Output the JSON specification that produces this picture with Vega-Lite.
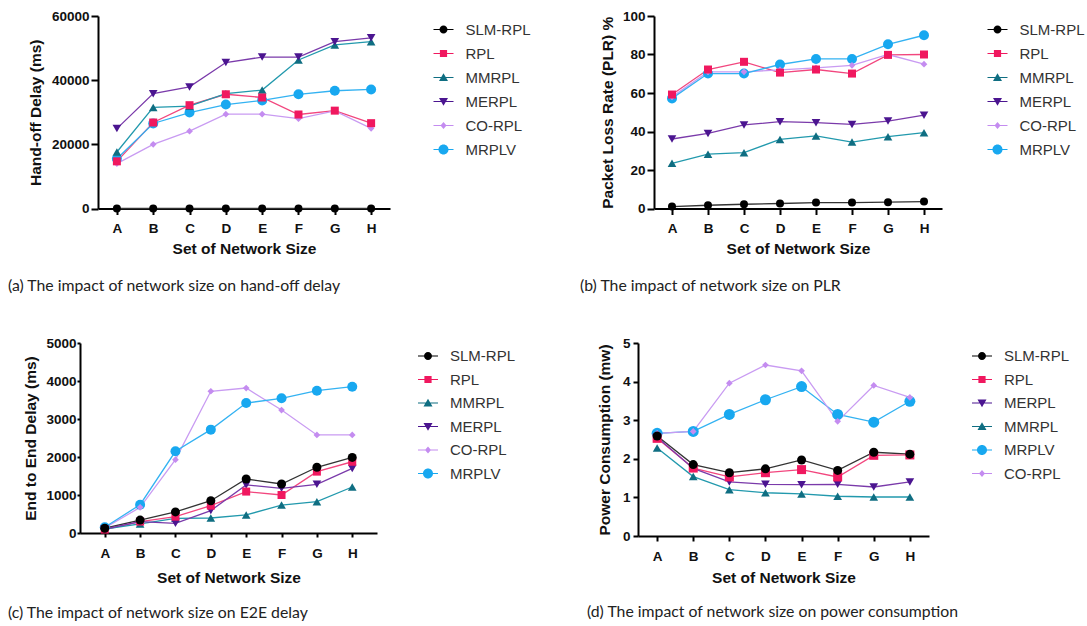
{
  "$schema": "https://vega.github.io/schema/vega-lite/v6.json",
  "background": "white",
  "padding": {"left": 8, "top": 9, "right": 2, "bottom": 5},
  "spacing": 42,
  "resolve": {"scale": {"color": "independent", "shape": "independent", "stroke": "independent"}},
  "datasets": {
    "ho": [
      {"set": "A", "series": "SLM-RPL", "value": 0}, {"set": "B", "series": "SLM-RPL", "value": 0}, {"set": "C", "series": "SLM-RPL", "value": 0}, {"set": "D", "series": "SLM-RPL", "value": 0},
      {"set": "E", "series": "SLM-RPL", "value": 0}, {"set": "F", "series": "SLM-RPL", "value": 0}, {"set": "G", "series": "SLM-RPL", "value": 0}, {"set": "H", "series": "SLM-RPL", "value": 0},
      {"set": "A", "series": "RPL", "value": 14700}, {"set": "B", "series": "RPL", "value": 26800}, {"set": "C", "series": "RPL", "value": 32200}, {"set": "D", "series": "RPL", "value": 35600},
      {"set": "E", "series": "RPL", "value": 34600}, {"set": "F", "series": "RPL", "value": 29300}, {"set": "G", "series": "RPL", "value": 30500}, {"set": "H", "series": "RPL", "value": 26600},
      {"set": "A", "series": "MMRPL", "value": 17600}, {"set": "B", "series": "MMRPL", "value": 31500}, {"set": "C", "series": "MMRPL", "value": 31900}, {"set": "D", "series": "MMRPL", "value": 35800},
      {"set": "E", "series": "MMRPL", "value": 36900}, {"set": "F", "series": "MMRPL", "value": 46300}, {"set": "G", "series": "MMRPL", "value": 51000}, {"set": "H", "series": "MMRPL", "value": 52000},
      {"set": "A", "series": "MERPL", "value": 24900}, {"set": "B", "series": "MERPL", "value": 35800}, {"set": "C", "series": "MERPL", "value": 37900}, {"set": "D", "series": "MERPL", "value": 45500},
      {"set": "E", "series": "MERPL", "value": 47200}, {"set": "F", "series": "MERPL", "value": 47200}, {"set": "G", "series": "MERPL", "value": 52000}, {"set": "H", "series": "MERPL", "value": 53200},
      {"set": "A", "series": "CO-RPL", "value": 14000}, {"set": "B", "series": "CO-RPL", "value": 20000}, {"set": "C", "series": "CO-RPL", "value": 24100}, {"set": "D", "series": "CO-RPL", "value": 29400},
      {"set": "E", "series": "CO-RPL", "value": 29400}, {"set": "F", "series": "CO-RPL", "value": 28000}, {"set": "G", "series": "CO-RPL", "value": 30400}, {"set": "H", "series": "CO-RPL", "value": 25000},
      {"set": "A", "series": "MRPLV", "value": 15500}, {"set": "B", "series": "MRPLV", "value": 26500}, {"set": "C", "series": "MRPLV", "value": 29900}, {"set": "D", "series": "MRPLV", "value": 32400},
      {"set": "E", "series": "MRPLV", "value": 33700}, {"set": "F", "series": "MRPLV", "value": 35600}, {"set": "G", "series": "MRPLV", "value": 36700}, {"set": "H", "series": "MRPLV", "value": 37100}
    ],
    "plr": [
      {"set": "A", "series": "SLM-RPL", "value": 1.0}, {"set": "B", "series": "SLM-RPL", "value": 1.7}, {"set": "C", "series": "SLM-RPL", "value": 2.2}, {"set": "D", "series": "SLM-RPL", "value": 2.6},
      {"set": "E", "series": "SLM-RPL", "value": 3.1}, {"set": "F", "series": "SLM-RPL", "value": 3.1}, {"set": "G", "series": "SLM-RPL", "value": 3.3}, {"set": "H", "series": "SLM-RPL", "value": 3.6},
      {"set": "A", "series": "RPL", "value": 59.2}, {"set": "B", "series": "RPL", "value": 72.2}, {"set": "C", "series": "RPL", "value": 76.2}, {"set": "D", "series": "RPL", "value": 70.6},
      {"set": "E", "series": "RPL", "value": 72.2}, {"set": "F", "series": "RPL", "value": 70.1}, {"set": "G", "series": "RPL", "value": 79.8}, {"set": "H", "series": "RPL", "value": 80.0},
      {"set": "A", "series": "MMRPL", "value": 23.5}, {"set": "B", "series": "MMRPL", "value": 28.2}, {"set": "C", "series": "MMRPL", "value": 29.0}, {"set": "D", "series": "MMRPL", "value": 35.9},
      {"set": "E", "series": "MMRPL", "value": 37.7}, {"set": "F", "series": "MMRPL", "value": 34.5}, {"set": "G", "series": "MMRPL", "value": 37.3}, {"set": "H", "series": "MMRPL", "value": 39.4},
      {"set": "A", "series": "MERPL", "value": 36.1}, {"set": "B", "series": "MERPL", "value": 39.0}, {"set": "C", "series": "MERPL", "value": 43.4}, {"set": "D", "series": "MERPL", "value": 45.1},
      {"set": "E", "series": "MERPL", "value": 44.6}, {"set": "F", "series": "MERPL", "value": 43.7}, {"set": "G", "series": "MERPL", "value": 45.4}, {"set": "H", "series": "MERPL", "value": 48.5},
      {"set": "A", "series": "CO-RPL", "value": 58.0}, {"set": "B", "series": "CO-RPL", "value": 71.0}, {"set": "C", "series": "CO-RPL", "value": 71.0}, {"set": "D", "series": "CO-RPL", "value": 72.0},
      {"set": "E", "series": "CO-RPL", "value": 73.0}, {"set": "F", "series": "CO-RPL", "value": 74.4}, {"set": "G", "series": "CO-RPL", "value": 80.0}, {"set": "H", "series": "CO-RPL", "value": 75.0},
      {"set": "A", "series": "MRPLV", "value": 57.2}, {"set": "B", "series": "MRPLV", "value": 70.1}, {"set": "C", "series": "MRPLV", "value": 70.1}, {"set": "D", "series": "MRPLV", "value": 74.8},
      {"set": "E", "series": "MRPLV", "value": 77.7}, {"set": "F", "series": "MRPLV", "value": 77.7}, {"set": "G", "series": "MRPLV", "value": 85.3}, {"set": "H", "series": "MRPLV", "value": 90.0}
    ],
    "e2e": [
      {"set": "A", "series": "SLM-RPL", "value": 125}, {"set": "B", "series": "SLM-RPL", "value": 340}, {"set": "C", "series": "SLM-RPL", "value": 555}, {"set": "D", "series": "SLM-RPL", "value": 850},
      {"set": "E", "series": "SLM-RPL", "value": 1420}, {"set": "F", "series": "SLM-RPL", "value": 1290}, {"set": "G", "series": "SLM-RPL", "value": 1730}, {"set": "H", "series": "SLM-RPL", "value": 1990},
      {"set": "A", "series": "RPL", "value": 90}, {"set": "B", "series": "RPL", "value": 300}, {"set": "C", "series": "RPL", "value": 430}, {"set": "D", "series": "RPL", "value": 720},
      {"set": "E", "series": "RPL", "value": 1090}, {"set": "F", "series": "RPL", "value": 1000}, {"set": "G", "series": "RPL", "value": 1615}, {"set": "H", "series": "RPL", "value": 1875},
      {"set": "A", "series": "MMRPL", "value": 105}, {"set": "B", "series": "MMRPL", "value": 240}, {"set": "C", "series": "MMRPL", "value": 385}, {"set": "D", "series": "MMRPL", "value": 395},
      {"set": "E", "series": "MMRPL", "value": 475}, {"set": "F", "series": "MMRPL", "value": 735}, {"set": "G", "series": "MMRPL", "value": 825}, {"set": "H", "series": "MMRPL", "value": 1210},
      {"set": "A", "series": "MERPL", "value": 105}, {"set": "B", "series": "MERPL", "value": 300}, {"set": "C", "series": "MERPL", "value": 255}, {"set": "D", "series": "MERPL", "value": 590},
      {"set": "E", "series": "MERPL", "value": 1265}, {"set": "F", "series": "MERPL", "value": 1175}, {"set": "G", "series": "MERPL", "value": 1280}, {"set": "H", "series": "MERPL", "value": 1700},
      {"set": "A", "series": "CO-RPL", "value": 130}, {"set": "B", "series": "CO-RPL", "value": 675}, {"set": "C", "series": "CO-RPL", "value": 1930}, {"set": "D", "series": "CO-RPL", "value": 3730},
      {"set": "E", "series": "CO-RPL", "value": 3815}, {"set": "F", "series": "CO-RPL", "value": 3235}, {"set": "G", "series": "CO-RPL", "value": 2580}, {"set": "H", "series": "CO-RPL", "value": 2580},
      {"set": "A", "series": "MRPLV", "value": 150}, {"set": "B", "series": "MRPLV", "value": 745}, {"set": "C", "series": "MRPLV", "value": 2150}, {"set": "D", "series": "MRPLV", "value": 2720},
      {"set": "E", "series": "MRPLV", "value": 3420}, {"set": "F", "series": "MRPLV", "value": 3545}, {"set": "G", "series": "MRPLV", "value": 3745}, {"set": "H", "series": "MRPLV", "value": 3850}
    ],
    "pwr": [
      {"set": "A", "series": "SLM-RPL", "value": 2.59}, {"set": "B", "series": "SLM-RPL", "value": 1.85}, {"set": "C", "series": "SLM-RPL", "value": 1.64}, {"set": "D", "series": "SLM-RPL", "value": 1.74},
      {"set": "E", "series": "SLM-RPL", "value": 1.97}, {"set": "F", "series": "SLM-RPL", "value": 1.70}, {"set": "G", "series": "SLM-RPL", "value": 2.17}, {"set": "H", "series": "SLM-RPL", "value": 2.12},
      {"set": "A", "series": "RPL", "value": 2.53}, {"set": "B", "series": "RPL", "value": 1.76}, {"set": "C", "series": "RPL", "value": 1.53}, {"set": "D", "series": "RPL", "value": 1.64},
      {"set": "E", "series": "RPL", "value": 1.72}, {"set": "F", "series": "RPL", "value": 1.53}, {"set": "G", "series": "RPL", "value": 2.09}, {"set": "H", "series": "RPL", "value": 2.10},
      {"set": "A", "series": "MERPL", "value": 2.56}, {"set": "B", "series": "MERPL", "value": 1.75}, {"set": "C", "series": "MERPL", "value": 1.40}, {"set": "D", "series": "MERPL", "value": 1.34},
      {"set": "E", "series": "MERPL", "value": 1.33}, {"set": "F", "series": "MERPL", "value": 1.34}, {"set": "G", "series": "MERPL", "value": 1.27}, {"set": "H", "series": "MERPL", "value": 1.40},
      {"set": "A", "series": "MMRPL", "value": 2.28}, {"set": "B", "series": "MMRPL", "value": 1.54}, {"set": "C", "series": "MMRPL", "value": 1.20}, {"set": "D", "series": "MMRPL", "value": 1.12},
      {"set": "E", "series": "MMRPL", "value": 1.09}, {"set": "F", "series": "MMRPL", "value": 1.03}, {"set": "G", "series": "MMRPL", "value": 1.01}, {"set": "H", "series": "MMRPL", "value": 1.01},
      {"set": "A", "series": "MRPLV", "value": 2.66}, {"set": "B", "series": "MRPLV", "value": 2.71}, {"set": "C", "series": "MRPLV", "value": 3.15}, {"set": "D", "series": "MRPLV", "value": 3.53},
      {"set": "E", "series": "MRPLV", "value": 3.87}, {"set": "F", "series": "MRPLV", "value": 3.15}, {"set": "G", "series": "MRPLV", "value": 2.95}, {"set": "H", "series": "MRPLV", "value": 3.49},
      {"set": "A", "series": "CO-RPL", "value": 2.66}, {"set": "B", "series": "CO-RPL", "value": 2.71}, {"set": "C", "series": "CO-RPL", "value": 3.96}, {"set": "D", "series": "CO-RPL", "value": 4.43},
      {"set": "E", "series": "CO-RPL", "value": 4.28}, {"set": "F", "series": "CO-RPL", "value": 2.97}, {"set": "G", "series": "CO-RPL", "value": 3.90}, {"set": "H", "series": "CO-RPL", "value": 3.59}
    ]
  },
  "vconcat": [
    {
      "spacing": 45,
      "resolve": {"scale": {"color": "independent", "shape": "independent", "stroke": "independent"}},
      "hconcat": [
        {
          "width": 310, "height": 192.5,
          "data": {"name": "ho"},
          "title": {"text": "(a) The impact of network size on hand-off delay", "dx": -72, "offset": 22},
          "encoding": {
            "x": {"field": "set", "type": "ordinal", "scale": {"type": "point", "padding": 0.52, "range": [18, 310]}, "axis": {"title": "Set of Network Size", "labelPadding": 7, "titlePadding": 6}},
            "y": {"field": "value", "type": "quantitative", "scale": {"domain": [0, 60000], "nice": false}, "axis": {"title": "Hand-off Delay (ms)", "values": [0, 20000, 40000, 60000], "format": "d", "offset": -18}}
          },
          "layer": [
            {"mark": {"type": "line", "strokeWidth": 1.3},
             "encoding": {"stroke": {"field": "series", "type": "nominal", "legend": null,
               "scale": {"domain": ["MRPLV", "CO-RPL", "MERPL", "MMRPL", "RPL", "SLM-RPL"], "range": ["#33b2f2", "#c99bf2", "#7a3aaa", "#2299ad", "#f2467e", "#333333"]}}}},
            {"transform": [{"filter": "datum.series === 'MRPLV'"}], "mark": {"type": "point", "shape": "circle", "filled": true, "opacity": 1, "size": 100, "color": "#18a8f0"}},
            {"transform": [{"filter": "datum.series === 'CO-RPL'"}], "mark": {"type": "point", "shape": "diamond", "filled": true, "opacity": 1, "size": 45, "color": "#c48cf0"}},
            {"transform": [{"filter": "datum.series === 'MMRPL'"}], "mark": {"type": "point", "shape": "triangle-up", "filled": true, "opacity": 1, "size": 75, "color": "#0f6e82"}},
            {"transform": [{"filter": "datum.series === 'MERPL'"}], "mark": {"type": "point", "shape": "triangle-down", "filled": true, "opacity": 1, "size": 75, "color": "#4b1590"}},
            {"transform": [{"filter": "datum.series === 'RPL'"}], "mark": {"type": "point", "shape": "square", "filled": true, "opacity": 1, "size": 64, "color": "#f0185f"}},
            {"transform": [{"filter": "datum.series === 'SLM-RPL'"}], "mark": {"type": "point", "shape": "circle", "filled": true, "opacity": 1, "size": 64, "color": "#000000"}},
            {"transform": [{"filter": "false"}], "mark": {"type": "point", "filled": true, "opacity": 1},
             "encoding": {
               "color": {"field": "series", "type": "nominal", "legend": {"title": null, "offset": 39.5, "padding": 3.5, "rowPadding": 6},
                 "scale": {"domain": ["SLM-RPL", "RPL", "MMRPL", "MERPL", "CO-RPL", "MRPLV"], "range": ["#000000", "#f0185f", "#0f6e82", "#4b1590", "#c48cf0", "#18a8f0"]}},
               "shape": {"field": "series", "type": "nominal", "legend": {"title": null, "offset": 39.5, "padding": 3.5, "rowPadding": 6},
                 "scale": {"domain": ["SLM-RPL", "RPL", "MMRPL", "MERPL", "CO-RPL", "MRPLV"], "range": [
                   "M-1,-0.06H1V0.06H-1ZM0.4,0A0.4,0.4,0,1,1,-0.4,0A0.4,0.4,0,1,1,0.4,0Z",
                   "M-1,-0.06H1V0.06H-1ZM-0.36,-0.36H0.36V0.36H-0.36Z",
                   "M-1,-0.06H1V0.06H-1ZM0,-0.42L0.45,0.36L-0.45,0.36Z",
                   "M-1,-0.06H1V0.06H-1ZM0,0.42L-0.45,-0.36L0.45,-0.36Z",
                   "M-1,-0.06H1V0.06H-1ZM0,-0.36L0.3,0L0,0.36L-0.3,0Z",
                   "M-1,-0.06H1V0.06H-1ZM0.5,0A0.5,0.5,0,1,1,-0.5,0A0.5,0.5,0,1,1,0.5,0Z"]}}
             }}
          ]
        },
        {
          "width": 288, "height": 192.5,
          "data": {"name": "plr"},
          "title": {"text": "(b) The impact of network size on PLR", "dx": -74, "offset": 22},
          "encoding": {
            "x": {"field": "set", "type": "ordinal", "scale": {"type": "point", "padding": 0.5}, "axis": {"title": "Set of Network Size", "labelPadding": 7, "titlePadding": 6}},
            "y": {"field": "value", "type": "quantitative", "scale": {"domain": [0, 100], "nice": false}, "axis": {"title": "Packet Loss Rate (PLR) %", "values": [0, 20, 40, 60, 80, 100], "format": "d", "titlePadding": 7}}
          },
          "layer": [
            {"mark": {"type": "line", "strokeWidth": 1.3},
             "encoding": {"stroke": {"field": "series", "type": "nominal", "legend": null,
               "scale": {"domain": ["MRPLV", "CO-RPL", "MERPL", "MMRPL", "RPL", "SLM-RPL"], "range": ["#33b2f2", "#c99bf2", "#7a3aaa", "#2299ad", "#f2467e", "#333333"]}}}},
            {"transform": [{"filter": "datum.series === 'MRPLV'"}], "mark": {"type": "point", "shape": "circle", "filled": true, "opacity": 1, "size": 100, "color": "#18a8f0"}},
            {"transform": [{"filter": "datum.series === 'CO-RPL'"}], "mark": {"type": "point", "shape": "diamond", "filled": true, "opacity": 1, "size": 45, "color": "#c48cf0"}},
            {"transform": [{"filter": "datum.series === 'MMRPL'"}], "mark": {"type": "point", "shape": "triangle-up", "filled": true, "opacity": 1, "size": 75, "color": "#0f6e82"}},
            {"transform": [{"filter": "datum.series === 'MERPL'"}], "mark": {"type": "point", "shape": "triangle-down", "filled": true, "opacity": 1, "size": 75, "color": "#4b1590"}},
            {"transform": [{"filter": "datum.series === 'RPL'"}], "mark": {"type": "point", "shape": "square", "filled": true, "opacity": 1, "size": 64, "color": "#f0185f"}},
            {"transform": [{"filter": "datum.series === 'SLM-RPL'"}], "mark": {"type": "point", "shape": "circle", "filled": true, "opacity": 1, "size": 64, "color": "#000000"}},
            {"transform": [{"filter": "false"}], "mark": {"type": "point", "filled": true, "opacity": 1},
             "encoding": {
               "color": {"field": "series", "type": "nominal", "legend": {"title": null, "offset": 41.5, "padding": 3.5, "rowPadding": 6},
                 "scale": {"domain": ["SLM-RPL", "RPL", "MMRPL", "MERPL", "CO-RPL", "MRPLV"], "range": ["#000000", "#f0185f", "#0f6e82", "#4b1590", "#c48cf0", "#18a8f0"]}},
               "shape": {"field": "series", "type": "nominal", "legend": {"title": null, "offset": 41.5, "padding": 3.5, "rowPadding": 6},
                 "scale": {"domain": ["SLM-RPL", "RPL", "MMRPL", "MERPL", "CO-RPL", "MRPLV"], "range": [
                   "M-1,-0.06H1V0.06H-1ZM0.4,0A0.4,0.4,0,1,1,-0.4,0A0.4,0.4,0,1,1,0.4,0Z",
                   "M-1,-0.06H1V0.06H-1ZM-0.36,-0.36H0.36V0.36H-0.36Z",
                   "M-1,-0.06H1V0.06H-1ZM0,-0.42L0.45,0.36L-0.45,0.36Z",
                   "M-1,-0.06H1V0.06H-1ZM0,0.42L-0.45,-0.36L0.45,-0.36Z",
                   "M-1,-0.06H1V0.06H-1ZM0,-0.36L0.3,0L0,0.36L-0.3,0Z",
                   "M-1,-0.06H1V0.06H-1ZM0.5,0A0.5,0.5,0,1,1,-0.5,0A0.5,0.5,0,1,1,0.5,0Z"]}}
             }}
          ]
        }
      ]
    },
    {
      "spacing": 68,
      "resolve": {"scale": {"color": "independent", "shape": "independent", "stroke": "independent"}},
      "hconcat": [
        {
          "width": 297, "height": 190,
          "data": {"name": "e2e"},
          "title": {"text": "(c) The impact of network size on E2E delay", "dx": -72, "offset": 20},
          "encoding": {
            "x": {"field": "set", "type": "ordinal", "scale": {"type": "point", "padding": 0.7}, "axis": {"title": "Set of Network Size", "tickSize": 4, "labelPadding": 9, "titlePadding": 11}},
            "y": {"field": "value", "type": "quantitative", "scale": {"domain": [0, 5000], "nice": false}, "axis": {"title": "End to End Delay (ms)", "values": [0, 1000, 2000, 3000, 4000, 5000], "format": "d", "tickSize": 3, "labelPadding": 1, "titlePadding": 7}}
          },
          "layer": [
            {"mark": {"type": "line", "strokeWidth": 1.3},
             "encoding": {"stroke": {"field": "series", "type": "nominal", "legend": null,
               "scale": {"domain": ["MRPLV", "CO-RPL", "MERPL", "MMRPL", "RPL", "SLM-RPL"], "range": ["#33b2f2", "#c99bf2", "#7a3aaa", "#2299ad", "#f2467e", "#333333"]}}}},
            {"transform": [{"filter": "datum.series === 'MRPLV'"}], "mark": {"type": "point", "shape": "circle", "filled": true, "opacity": 1, "size": 100, "color": "#18a8f0"}},
            {"transform": [{"filter": "datum.series === 'CO-RPL'"}], "mark": {"type": "point", "shape": "diamond", "filled": true, "opacity": 1, "size": 45, "color": "#c48cf0"}},
            {"transform": [{"filter": "datum.series === 'MMRPL'"}], "mark": {"type": "point", "shape": "triangle-up", "filled": true, "opacity": 1, "size": 75, "color": "#0f6e82"}},
            {"transform": [{"filter": "datum.series === 'MERPL'"}], "mark": {"type": "point", "shape": "triangle-down", "filled": true, "opacity": 1, "size": 75, "color": "#4b1590"}},
            {"transform": [{"filter": "datum.series === 'RPL'"}], "mark": {"type": "point", "shape": "square", "filled": true, "opacity": 1, "size": 64, "color": "#f0185f"}},
            {"transform": [{"filter": "datum.series === 'SLM-RPL'"}], "mark": {"type": "point", "shape": "circle", "filled": true, "opacity": 1, "size": 81, "color": "#000000"}},
            {"transform": [{"filter": "false"}], "mark": {"type": "point", "filled": true, "opacity": 1},
             "encoding": {
               "color": {"field": "series", "type": "nominal", "legend": {"title": null, "offset": 38, "padding": 3, "rowPadding": 5.5},
                 "scale": {"domain": ["SLM-RPL", "RPL", "MMRPL", "MERPL", "CO-RPL", "MRPLV"], "range": ["#000000", "#f0185f", "#0f6e82", "#4b1590", "#c48cf0", "#18a8f0"]}},
               "shape": {"field": "series", "type": "nominal", "legend": {"title": null, "offset": 38, "padding": 3, "rowPadding": 5.5},
                 "scale": {"domain": ["SLM-RPL", "RPL", "MMRPL", "MERPL", "CO-RPL", "MRPLV"], "range": [
                   "M-1,-0.06H1V0.06H-1ZM0.4,0A0.4,0.4,0,1,1,-0.4,0A0.4,0.4,0,1,1,0.4,0Z",
                   "M-1,-0.06H1V0.06H-1ZM-0.36,-0.36H0.36V0.36H-0.36Z",
                   "M-1,-0.06H1V0.06H-1ZM0,-0.42L0.45,0.36L-0.45,0.36Z",
                   "M-1,-0.06H1V0.06H-1ZM0,0.42L-0.45,-0.36L0.45,-0.36Z",
                   "M-1,-0.06H1V0.06H-1ZM0,-0.36L0.3,0L0,0.36L-0.3,0Z",
                   "M-1,-0.06H1V0.06H-1ZM0.5,0A0.5,0.5,0,1,1,-0.5,0A0.5,0.5,0,1,1,0.5,0Z"]}}
             }}
          ]
        },
        {
          "width": 291, "height": 193,
          "data": {"name": "pwr"},
          "title": {"text": "(d) The impact of network size on power consumption", "dx": -51, "offset": 19},
          "encoding": {
            "x": {"field": "set", "type": "ordinal", "scale": {"type": "point", "padding": 0.53}, "axis": {"title": "Set of Network Size", "tickSize": 5, "labelPadding": 8, "titlePadding": 8}},
            "y": {"field": "value", "type": "quantitative", "scale": {"domain": [0, 5], "nice": false}, "axis": {"title": "Power Consumption (mw)", "values": [0, 1, 2, 3, 4, 5], "format": "d", "tickSize": 5, "labelPadding": 3, "titlePadding": 10}}
          },
          "layer": [
            {"mark": {"type": "line", "strokeWidth": 1.3},
             "encoding": {"stroke": {"field": "series", "type": "nominal", "legend": null,
               "scale": {"domain": ["CO-RPL", "MRPLV", "MMRPL", "MERPL", "RPL", "SLM-RPL"], "range": ["#c99bf2", "#33b2f2", "#2299ad", "#7a3aaa", "#f2467e", "#333333"]}}}},
            {"transform": [{"filter": "datum.series === 'MRPLV'"}], "mark": {"type": "point", "shape": "circle", "filled": true, "opacity": 1, "size": 121, "color": "#18a8f0"}},
            {"transform": [{"filter": "datum.series === 'CO-RPL'"}], "mark": {"type": "point", "shape": "diamond", "filled": true, "opacity": 1, "size": 45, "color": "#c48cf0"}},
            {"transform": [{"filter": "datum.series === 'MMRPL'"}], "mark": {"type": "point", "shape": "triangle-up", "filled": true, "opacity": 1, "size": 75, "color": "#0f6e82"}},
            {"transform": [{"filter": "datum.series === 'MERPL'"}], "mark": {"type": "point", "shape": "triangle-down", "filled": true, "opacity": 1, "size": 75, "color": "#4b1590"}},
            {"transform": [{"filter": "datum.series === 'RPL'"}], "mark": {"type": "point", "shape": "square", "filled": true, "opacity": 1, "size": 81, "color": "#f0185f"}},
            {"transform": [{"filter": "datum.series === 'SLM-RPL'"}], "mark": {"type": "point", "shape": "circle", "filled": true, "opacity": 1, "size": 81, "color": "#000000"}},
            {"transform": [{"filter": "false"}], "mark": {"type": "point", "filled": true, "opacity": 1},
             "encoding": {
               "color": {"field": "series", "type": "nominal", "legend": {"title": null, "offset": 40, "padding": 3, "rowPadding": 5.5},
                 "scale": {"domain": ["SLM-RPL", "RPL", "MERPL", "MMRPL", "MRPLV", "CO-RPL"], "range": ["#000000", "#f0185f", "#4b1590", "#0f6e82", "#18a8f0", "#c48cf0"]}},
               "shape": {"field": "series", "type": "nominal", "legend": {"title": null, "offset": 40, "padding": 3, "rowPadding": 5.5},
                 "scale": {"domain": ["SLM-RPL", "RPL", "MERPL", "MMRPL", "MRPLV", "CO-RPL"], "range": [
                   "M-1,-0.06H1V0.06H-1ZM0.4,0A0.4,0.4,0,1,1,-0.4,0A0.4,0.4,0,1,1,0.4,0Z",
                   "M-1,-0.06H1V0.06H-1ZM-0.36,-0.36H0.36V0.36H-0.36Z",
                   "M-1,-0.06H1V0.06H-1ZM0,0.42L-0.45,-0.36L0.45,-0.36Z",
                   "M-1,-0.06H1V0.06H-1ZM0,-0.42L0.45,0.36L-0.45,0.36Z",
                   "M-1,-0.06H1V0.06H-1ZM0.5,0A0.5,0.5,0,1,1,-0.5,0A0.5,0.5,0,1,1,0.5,0Z",
                   "M-1,-0.06H1V0.06H-1ZM0,-0.36L0.3,0L0,0.36L-0.3,0Z"]}}
             }}
          ]
        }
      ]
    }
  ],
  "config": {
    "view": {"stroke": null},
    "font": "Liberation Sans",
    "axis": {
      "grid": false, "domainColor": "#000000", "domainWidth": 2, "tickColor": "#000000", "tickWidth": 2,
      "labelFont": "Liberation Sans", "labelFontWeight": "bold", "labelFontSize": 13.5, "labelColor": "#111111",
      "titleFont": "Liberation Sans", "titleFontWeight": "bold", "titleFontSize": 15.5, "titleColor": "#111111"
    },
    "axisX": {"labelAngle": 0, "tickSize": 6, "labelPadding": 4, "titlePadding": 5},
    "axisY": {"tickSize": 7, "labelPadding": 2, "titlePadding": 8},
    "legend": {
      "orient": "right", "symbolSize": 400, "symbolStrokeWidth": 0, "symbolOpacity": 1,
      "labelFont": "Liberation Sans", "labelFontSize": 15, "labelColor": "#333333", "labelOffset": 12
    },
    "title": {"font": "Lato", "fontSize": 15.8, "fontWeight": "normal", "color": "#222222", "orient": "bottom", "anchor": "start", "frame": "group"}
  }
}
